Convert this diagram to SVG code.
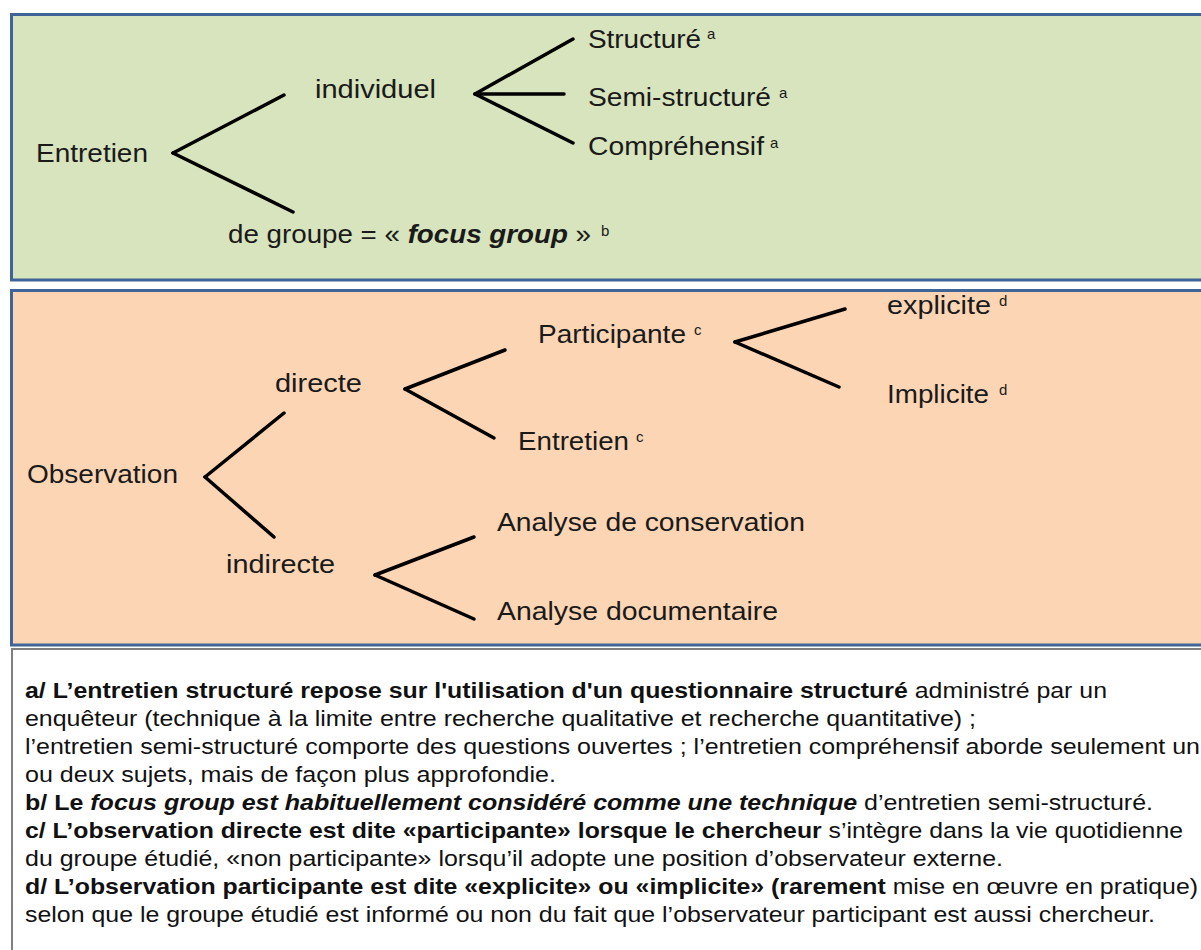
<svg xmlns="http://www.w3.org/2000/svg" width="1201" height="950" viewBox="0 0 1201 950">
<style>
.lbl{font-family:"Liberation Sans",Arial,sans-serif;font-size:25px;fill:#1a1a1a}
.sup{font-family:"Liberation Sans",Arial,sans-serif;font-size:15px;fill:#1a1a1a}
.fn{font-family:"Liberation Sans",Arial,sans-serif;font-size:22px;fill:#111}
.b{font-weight:bold}
.bi{font-weight:bold;font-style:italic}
.conn line{stroke:#000;stroke-width:3.5;stroke-linecap:round}
</style>
<rect width="1201" height="950" fill="#fff"/>
<g id="box-entretien">
<rect x="11.5" y="14.5" width="1200" height="265.5" fill="#d7e4bd" stroke="#3f6598" stroke-width="3"/>
</g>
<g id="box-observation">
<rect x="11.5" y="290.5" width="1200" height="354.5" fill="#fcd5b5" stroke="#3f6598" stroke-width="3"/>
</g>
<g id="box-notes">
<rect x="12" y="649" width="1200" height="310" fill="#fff" stroke="#7f7f7f" stroke-width="2"/>
</g>
<g class="conn" id="connectors">
<line x1="173" y1="153" x2="284" y2="95"/>
<line x1="173" y1="153" x2="293" y2="212"/>
<line x1="475" y1="94" x2="573" y2="39"/>
<line x1="475" y1="94" x2="564" y2="94"/>
<line x1="475" y1="94" x2="573" y2="143"/>
<line x1="205" y1="477" x2="284" y2="413"/>
<line x1="205" y1="477" x2="274" y2="537"/>
<line x1="405" y1="389" x2="505" y2="350"/>
<line x1="405" y1="389" x2="494" y2="438"/>
<line x1="375" y1="575" x2="474" y2="537"/>
<line x1="375" y1="575" x2="474" y2="619"/>
<line x1="735" y1="342" x2="845" y2="309"/>
<line x1="735" y1="342" x2="839" y2="387"/>
</g>
<g id="n-entretien"><text class="lbl" x="36" y="162" textLength="112" lengthAdjust="spacingAndGlyphs">Entretien</text></g>
<g id="n-individuel"><text class="lbl" x="315" y="98" textLength="121" lengthAdjust="spacingAndGlyphs">individuel</text></g>
<g id="n-structure"><text class="lbl" x="588" y="48" textLength="113" lengthAdjust="spacingAndGlyphs">Structuré</text><text class="sup" x="707" y="39">a</text></g>
<g id="n-semi"><text class="lbl" x="588" y="106" textLength="183" lengthAdjust="spacingAndGlyphs">Semi-structuré</text><text class="sup" x="779" y="98">a</text></g>
<g id="n-compr"><text class="lbl" x="588" y="155" textLength="176" lengthAdjust="spacingAndGlyphs">Compréhensif</text><text class="sup" x="770" y="148">a</text></g>
<g id="n-groupe"><text class="lbl" x="228" y="243" textLength="363" lengthAdjust="spacingAndGlyphs">de groupe = « <tspan class="bi">focus group</tspan> »</text><text class="sup" x="601" y="236">b</text></g>
<g id="n-observation"><text class="lbl" x="27" y="483" textLength="151" lengthAdjust="spacingAndGlyphs">Observation</text></g>
<g id="n-directe"><text class="lbl" x="275" y="392" textLength="87" lengthAdjust="spacingAndGlyphs">directe</text></g>
<g id="n-indirecte"><text class="lbl" x="226" y="573" textLength="109" lengthAdjust="spacingAndGlyphs">indirecte</text></g>
<g id="n-participante"><text class="lbl" x="538" y="343" textLength="148" lengthAdjust="spacingAndGlyphs">Participante</text><text class="sup" x="694" y="335">c</text></g>
<g id="n-entretien2"><text class="lbl" x="518" y="450" textLength="111" lengthAdjust="spacingAndGlyphs">Entretien</text><text class="sup" x="636" y="442">c</text></g>
<g id="n-conservation"><text class="lbl" x="497" y="531" textLength="308" lengthAdjust="spacingAndGlyphs">Analyse de conservation</text></g>
<g id="n-documentaire"><text class="lbl" x="497" y="620" textLength="281" lengthAdjust="spacingAndGlyphs">Analyse documentaire</text></g>
<g id="n-explicite"><text class="lbl" x="887" y="314" textLength="104" lengthAdjust="spacingAndGlyphs">explicite</text><text class="sup" x="999" y="306">d</text></g>
<g id="n-implicite"><text class="lbl" x="887" y="403" textLength="102" lengthAdjust="spacingAndGlyphs">Implicite</text><text class="sup" x="999" y="395">d</text></g>
<g id="notes">
<text class="fn" x="25" y="698" textLength="1082" lengthAdjust="spacingAndGlyphs"><tspan class="b">a/ L’entretien structuré repose sur l'utilisation d'un questionnaire structuré</tspan> administré par un</text>
<text class="fn" x="25" y="726" textLength="951" lengthAdjust="spacingAndGlyphs">enquêteur (technique à la limite entre recherche qualitative et recherche quantitative) ;</text>
<text class="fn" x="25" y="754" textLength="1175" lengthAdjust="spacingAndGlyphs">l’entretien semi-structuré comporte des questions ouvertes ; l’entretien compréhensif aborde seulement un</text>
<text class="fn" x="25" y="782" textLength="531" lengthAdjust="spacingAndGlyphs">ou deux sujets, mais de façon plus approfondie.</text>
<text class="fn" x="25" y="810" textLength="1128" lengthAdjust="spacingAndGlyphs"><tspan class="b">b/ Le </tspan><tspan class="bi">focus group est habituellement considéré comme une technique</tspan> d’entretien semi-structuré.</text>
<text class="fn" x="25" y="838" textLength="1158" lengthAdjust="spacingAndGlyphs"><tspan class="b">c/ L’observation directe est dite «participante» lorsque le chercheur</tspan> s’intègre dans la vie quotidienne</text>
<text class="fn" x="25" y="866" textLength="978" lengthAdjust="spacingAndGlyphs">du groupe étudié, «non participante» lorsqu’il adopte une position d’observateur externe.</text>
<text class="fn" x="25" y="894" textLength="1173" lengthAdjust="spacingAndGlyphs"><tspan class="b">d/ L’observation participante est dite «explicite» ou «implicite» (rarement</tspan> mise en œuvre en pratique)</text>
<text class="fn" x="25" y="922" textLength="1130" lengthAdjust="spacingAndGlyphs">selon que le groupe étudié est informé ou non du fait que l’observateur participant est aussi chercheur.</text>
</g>
</svg>
